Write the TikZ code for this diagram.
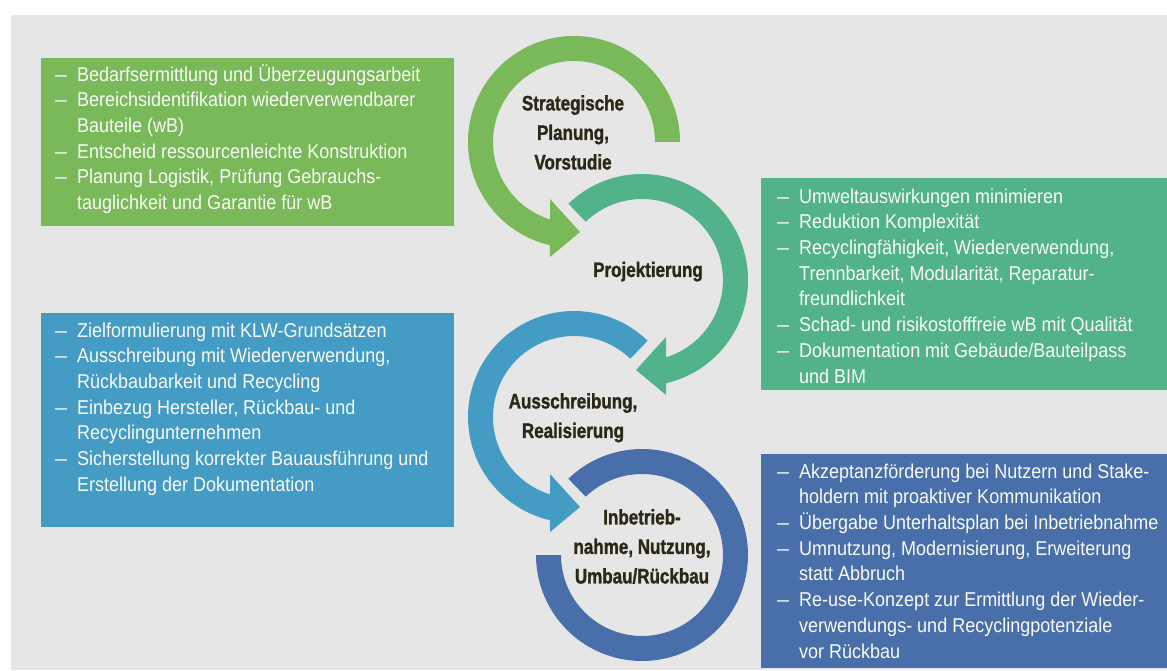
\documentclass[tikz,border=0pt]{standalone}
\usepackage{fontspec}
\usepackage{graphicx}
\setmainfont{Liberation Sans}
\newfontfamily\boxfont[FakeStretch=0.9]{Liberation Sans}
\newfontfamily\ttlfont[FakeStretch=0.81, BoldFeatures={FakeBold=1.3}]{Liberation Sans}
\definecolor{bggray}{RGB}{230,230,230}
\definecolor{cgreen}{RGB}{121,185,90}
\definecolor{cteal}{RGB}{82,178,138}
\definecolor{cblue}{RGB}{68,155,196}
\definecolor{cdblue}{RGB}{72,111,170}
\definecolor{ttldark}{RGB}{44,40,24}
\definecolor{boxwhite}{RGB}{250,250,245}
\newcommand\itm{\strut\makebox[22pt][l]{\scalebox{1.2}[1]{–}}}
\newcommand\cnt{\strut\hspace*{22pt}}
\begin{document}
\begin{tikzpicture}[x=1pt,y=1pt,
  boxbg/.style={draw=none, inner sep=0pt, outer sep=0pt, anchor=north west},
  boxtxt/.style={inner sep=0pt, anchor=north west, align=left, text=boxwhite,
    font=\boxfont\fontsize{20}{25.7}\selectfont},
  ttl/.style={inner sep=0pt, align=center, text=ttldark,
    font=\ttlfont\bfseries\fontsize{21}{29.5}\selectfont}]
\useasboundingbox (0,0) rectangle (1167,670);
\fill[white] (0,0) rectangle (1167,670);
\fill[bggray] (11,0) rectangle (1167,655);

% boxes
\node[boxbg, fill=cgreen, minimum width=413pt, minimum height=168pt] (bg1) at (41,612) {};
\node[boxbg, fill=cteal,  minimum width=406pt, minimum height=212pt] (bg2) at (761,492) {};
\node[boxbg, fill=cblue,  minimum width=413pt, minimum height=214pt] (bg3) at (41,357) {};
\node[boxbg, fill=cdblue, minimum width=406pt, minimum height=214pt] (bg4) at (761,216) {};

\node[boxtxt] (tx1) at (55,607) {\itm Bedarfsermittlung und Überzeugungsarbeit\\
\itm Bereichsidentifikation wiederverwendbarer\\
\cnt Bauteile (wB)\\
\itm Entscheid ressourcenleichte Konstruktion\\
\itm Planung Logistik, Prüfung Gebrauchs-\\
\cnt tauglichkeit und Garantie für wB};

\node[boxtxt] (tx2) at (777,485) {\itm Umweltauswirkungen minimieren\\
\itm Reduktion Komplexität\\
\itm Recyclingfähigkeit, Wiederverwendung,\\
\cnt Trennbarkeit, Modularität, Reparatur-\\
\cnt freundlichkeit\\
\itm Schad- und risikostofffreie wB mit Qualität\\
\itm Dokumentation mit Gebäude/Bauteilpass\\
\cnt und BIM};

\node[boxtxt] (tx3) at (55,351) {\itm Zielformulierung mit KLW-Grundsätzen\\
\itm Ausschreibung mit Wiederverwendung,\\
\cnt Rückbaubarkeit und Recycling\\
\itm Einbezug Hersteller, Rückbau- und\\
\cnt Recyclingunternehmen\\
\itm Sicherstellung korrekter Bauausführung und\\
\cnt Erstellung der Dokumentation};

\node[boxtxt] (tx4) at (777,210) {\itm Akzeptanzförderung bei Nutzern und Stake-\\
\cnt holdern mit proaktiver Kommunikation\\
\itm Übergabe Unterhaltsplan bei Inbetriebnahme\\
\itm Umnutzung, Modernisierung, Erweiterung\\
\cnt statt Abbruch\\
\itm Re-use-Konzept zur Ermittlung der Wieder-\\
\cnt verwendungs- und Recyclingpotenziale\\
\cnt vor Rückbau};

% ring centres
\coordinate (c1) at (574,528);
\coordinate (c2) at (642,390);
\coordinate (c3) at (574,253);
\coordinate (c4) at (642,115);

% green arrow
\fill[cgreen, shift={(c1)}] (0:106) arc[start angle=0, end angle=256.9, radius=106]
  -- (-24,-115) -- (6,-90) -- (-24,-57) -- (252.76:81)
  arc[start angle=252.76, end angle=0, radius=81] -- cycle;
% teal arrow
\fill[cteal, shift={(c2)}] (134:106) arc[start angle=134, end angle=-76.91, radius=106]
  -- (24,-115) -- (-6,-90) -- (24,-57) -- (-72.76:81)
  arc[start angle=-72.76, end angle=134, radius=81] -- cycle;
% blue arrow
\fill[cblue, shift={(c3)}] (46:106) arc[start angle=46, end angle=256.9, radius=106]
  -- (-24,-115) -- (6,-90) -- (-24,-57) -- (252.76:81)
  arc[start angle=252.76, end angle=46, radius=81] -- cycle;
% dark blue ring
\fill[cdblue, shift={(c4)}] (134:106) arc[start angle=134, end angle=-180, radius=106]
  -- (-180:81) arc[start angle=-180, end angle=134, radius=81] -- cycle;

% titles
\node[ttl, anchor=north] (t1) at (573,575) {Strategische\\Planung,\\Vorstudie};
\node[ttl, anchor=base] (t2) at (648,393) {Projektierung};
\node[ttl, anchor=north] (t3) at (573,277) {Ausschreibung,\\Realisierung};
\node[ttl, anchor=north] (t4) at (642,161) {Inbetrieb-\\nahme, Nutzung,\\Umbau/Rückbau};
\end{tikzpicture}
\end{document}
